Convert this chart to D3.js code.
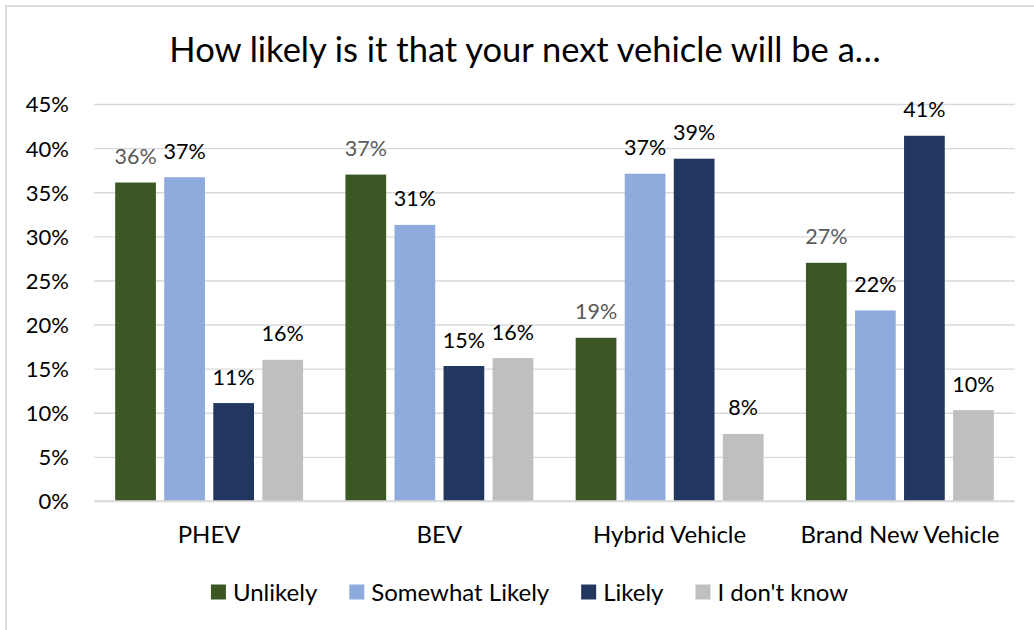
<!DOCTYPE html>
<html>
<head>
<meta charset="utf-8">
<script src="https://cdn.jsdelivr.net/npm/d3@7"></script>
<style>
  html, body { margin: 0; padding: 0; background: #fff; }
  svg { display: block; font-family: Lato, "Open Sans", sans-serif; }
</style>
</head>
<body>
<svg id="chart" width="1034" height="630"></svg>
<script>
// Survey responses, share of respondents per vehicle type (percent)
const categories = ["PHEV", "BEV", "Hybrid Vehicle", "Brand New Vehicle"];
const seriesNames = ["Unlikely", "Somewhat Likely", "Likely", "I don't know"];
const unlikely       = [36.1, 37.0, 18.5, 27.0];
const somewhatLikely = [36.7, 31.3, 37.1, 21.6];
const likely         = [11.1, 15.3, 38.8, 41.4];
const dontKnow       = [16.0, 16.2, 7.6, 10.3];
const yTicks = [0, 5, 10, 15, 20, 25, 30, 35, 40, 45];
const title = "How likely is it that your next vehicle will be a…";

const seriesValues = [unlikely, somewhatLikely, likely, dontKnow];
const colors = ["#3A5724", "#8FAADC", "#21375F", "#BFBFBF"];
const labelColors = ["#595959", "#000000", "#000000", "#000000"];

const svg = d3.select("#chart");
const W = 1034, H = 630;
const plot = { left: 94, right: 1015, top: 104, bottom: 501 };

// chart frame
svg.append("rect")
  .attr("x", 6).attr("y", 6)
  .attr("width", W + 20).attr("height", H + 20)
  .attr("fill", "#fff")
  .attr("stroke", "#D9D9D9").attr("stroke-width", 1.8);

// title
svg.append("text")
  .attr("x", 525).attr("y", 62)
  .attr("text-anchor", "middle")
  .attr("font-size", 34.5)
  .attr("fill", "#000")
  .text(title);

const y = d3.scaleLinear().domain([0, 45]).range([plot.bottom, plot.top]);
const x0 = d3.scaleBand().domain(categories).range([plot.left, plot.right]).padding(0);
const bw = x0.bandwidth();
const groupPad = bw * 0.092;
const x1 = d3.scaleBand().domain(seriesNames)
  .range([groupPad, bw - groupPad]).paddingInner(0.17).paddingOuter(0);

// gridlines
const grid = svg.append("g")
  .attr("transform", `translate(${plot.left},0)`)
  .call(d3.axisLeft(y).tickValues(yTicks).tickSize(-(plot.right - plot.left)).tickFormat(""));
grid.select(".domain").remove();
grid.selectAll("line").attr("stroke", "#D9D9D9").attr("stroke-width", 1.4);

// y-axis labels
const yAxis = svg.append("g")
  .attr("transform", `translate(${plot.left - 25},0)`)
  .call(d3.axisLeft(y).tickValues(yTicks).tickSize(0).tickPadding(0).tickFormat(d => d + "%"));
yAxis.select(".domain").remove();
yAxis.selectAll("text")
  .attr("font-family", "Lato, sans-serif")
  .attr("font-size", 22)
  .attr("fill", "#000")
  .attr("dy", "0.36em");

// bars
const rows = [];
categories.forEach((c, i) => {
  seriesNames.forEach((s, j) => {
    rows.push({ cat: c, series: s, idx: j, value: seriesValues[j][i] });
  });
});

const groups = svg.append("g");
groups.selectAll("rect.bar")
  .data(rows)
  .join("rect")
  .attr("class", "bar")
  .attr("x", d => x0(d.cat) + x1(d.series))
  .attr("y", d => y(d.value))
  .attr("width", x1.bandwidth())
  .attr("height", d => y(0) - y(d.value))
  .attr("fill", d => colors[d.idx]);

// value labels
const fmt = d => d3.format(".0f")(d) + "%";
groups.selectAll("text.val")
  .data(rows)
  .join("text")
  .attr("class", "val")
  .attr("x", d => x0(d.cat) + x1(d.series) + x1.bandwidth() / 2)
  .attr("y", d => y(d.value) - 18.5)
  .attr("text-anchor", "middle")
  .attr("font-size", 21.5)
  .attr("fill", d => labelColors[d.idx])
  .text(d => fmt(d.value));

// baseline
svg.append("line")
  .attr("x1", plot.left).attr("x2", plot.right)
  .attr("y1", y(0)).attr("y2", y(0))
  .attr("stroke", "#D9D9D9").attr("stroke-width", 1.6);

// category labels
const xAxis = svg.append("g")
  .attr("transform", `translate(0,${plot.bottom})`)
  .call(d3.axisBottom(x0).tickSize(0).tickPadding(0));
xAxis.select(".domain").remove();
xAxis.selectAll("text")
  .attr("font-family", "Lato, sans-serif")
  .attr("font-size", 24)
  .attr("fill", "#000")
  .attr("y", 42)
  .attr("dy", 0);

// legend
const legend = svg.append("g");
const items = legend.selectAll("g.item").data(seriesNames).join("g").attr("class", "item");
items.append("rect")
  .attr("width", 15).attr("height", 15)
  .attr("y", -7.5)
  .attr("fill", (d, i) => colors[i]);
items.append("text")
  .attr("x", 22)
  .attr("dy", "0.36em")
  .attr("font-size", 24)
  .attr("fill", "#000")
  .text(d => d);
let cx = 0;
const widths = [];
items.each(function () {
  const t = d3.select(this).select("text").node().getComputedTextLength();
  widths.push(22 + t);
});
const total = d3.sum(widths) + 32 * (widths.length - 1);
const startX = 529.5 - total / 2;
items.attr("transform", (d, i) => {
  const tx = startX + cx;
  cx += widths[i] + 32;
  return `translate(${tx},592)`;
});
</script>
</body>
</html>
